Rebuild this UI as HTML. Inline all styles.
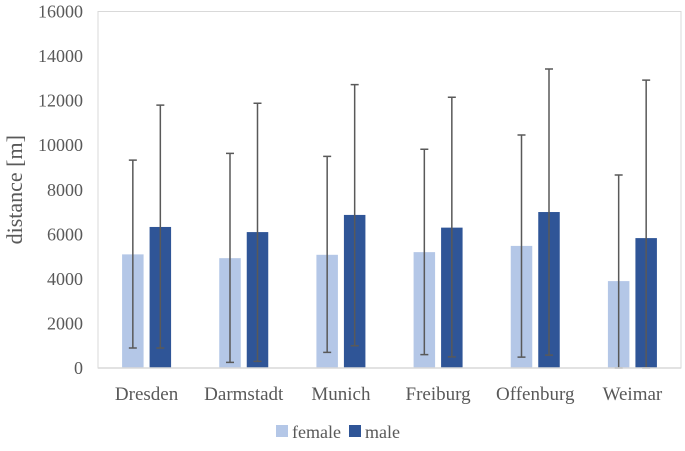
<!DOCTYPE html>
<html><head><meta charset="utf-8"><style>
body{margin:0;background:#fff}
svg text{font-family:"Liberation Serif",serif;fill:#595959}
</style></head><body>
<svg id="c" width="685" height="446">
<rect x="0" y="0" width="685" height="446" fill="#fff"/>
<rect x="98" y="11.5" width="583" height="356.5" fill="none" stroke="#d9d9d9" stroke-width="1"/>
<g id="g"></g>
</svg>
<script>
const categories=["Dresden","Darmstadt","Munich","Freiburg","Offenburg","Weimar"];
const femaleValues=[5100,4930,5080,5200,5480,3900];
const maleValues=[6330,6100,6870,6300,7000,5830];
const femaleLow=[900,250,700,600,490,0];
const femaleHigh=[9330,9630,9500,9820,10460,8660];
const maleLow=[900,300,1000,500,580,0];
const maleHigh=[11800,11880,12720,12150,13420,12920];
const yTicks=[0,2000,4000,6000,8000,10000,12000,14000,16000];
const NS="http://www.w3.org/2000/svg",g=document.getElementById('g');
const L=98,R=681,T=11.5,B=368,YMAX=16000;
const y=v=>B-(v/YMAX)*(B-T);
const band=(R-L)/categories.length;
const xc=i=>L+band*(i+0.5);
function mk(t,a){const e=document.createElementNS(NS,t);for(const k in a)e.setAttribute(k,a[k]);g.appendChild(e);return e;}
yTicks.forEach(v=>{const t=mk('text',{x:83,y:y(v)+6,'text-anchor':'end','font-size':18});t.textContent=v;

});
const yt=mk('text',{x:0,y:0,'text-anchor':'middle','font-size':22,transform:`translate(22,${(T+B)/2}) rotate(-90)`});yt.textContent='distance [m]';


const bw=21.5,gap=6;
function errbar(x,lo,hi,nm){const p=mk('path',{d:`M${x-4},${y(hi)}H${x+4}M${x},${y(hi)}V${y(lo)}M${x-4},${y(lo)}H${x+4}`,stroke:'#595959','stroke-width':1.5,fill:'none'});

}
categories.forEach((c,i)=>{
 const cx=xc(i);
 const fx=cx-gap/2-bw, mx=cx+gap/2;
 const f=mk('rect',{x:fx,y:y(femaleValues[i]),width:bw,height:B-y(femaleValues[i]),fill:'#b4c7e7'});
 
 
 const m=mk('rect',{x:mx,y:y(maleValues[i]),width:bw,height:B-y(maleValues[i]),fill:'#2f5597'});
 
 
 errbar(fx+bw/2,femaleLow[i],femaleHigh[i],'error-bar-female');
 errbar(mx+bw/2,maleLow[i],maleHigh[i],'error-bar-male');
 const t=mk('text',{x:cx,y:400,'text-anchor':'middle','font-size':19});t.textContent=c;
 
 
});
const ax=mk('line',{x1:L,x2:R,y1:B,y2:B,stroke:'#d9d9d9','stroke-width':1.5});


[["female","#b4c7e7",276],["male","#2f5597",349]].forEach(([n,col,x])=>{
 const r=mk('rect',{x:x,y:425,width:12,height:12,fill:col});
 
 
 const t=mk('text',{x:x+16,y:438,'font-size':18});t.textContent=n;
 
 
});
</script>
</body></html>
